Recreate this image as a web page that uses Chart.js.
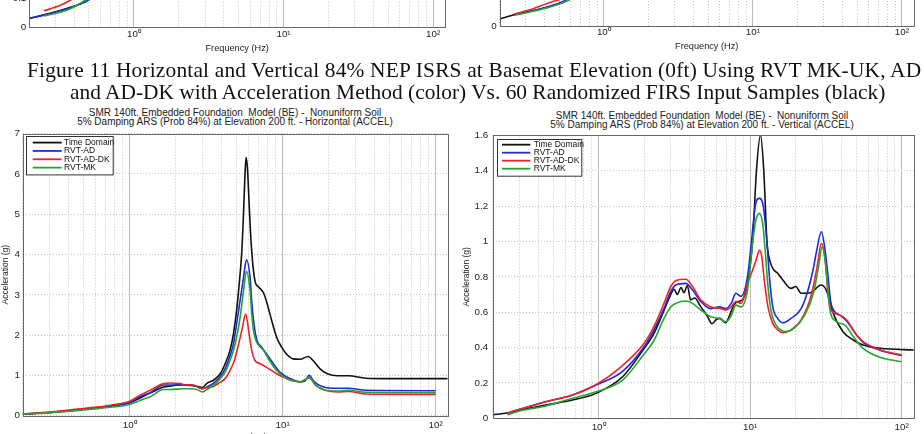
<!DOCTYPE html>
<html>
<head>
<meta charset="utf-8">
<script src="https://cdn.jsdelivr.net/npm/chart.js@4.4.1/dist/chart.umd.min.js"></script>
<style>
  html, body { margin: 0; padding: 0; background: #fff; }
  body { width: 924px; height: 434px; overflow: hidden; position: relative; font-family: "Liberation Sans", Arial, sans-serif; }
  .panel { position: absolute; }
  .cap { position: absolute; font-family: "Liberation Serif", "Times New Roman", serif; font-size: 21.4px; line-height: 22px;
         color: #111; white-space: nowrap; }
  .ttl { position: absolute; font-size: 10px; line-height: 9.3px; text-align: center; color: #222; white-space: pre; }
</style>
</head>
<body>

<div class="panel" style="left:0;top:-130px;width:462px;height:190px"><canvas id="fragH"></canvas></div>
<div class="panel" style="left:462px;top:-130px;width:462px;height:190px"><canvas id="fragV"></canvas></div>

<div class="cap" style="left:27px;top:59px;letter-spacing:0.18px">Figure 11 Horizontal and Vertical 84% NEP ISRS at Basemat Elevation (0ft) Using RVT MK-UK, AD</div>
<div class="cap" style="left:70px;top:81px">and AD-DK with Acceleration Method (color) Vs. 60 Randomized FIRS Input Samples (black)</div>

<div class="ttl" style="left:35px;top:108px;width:400px">SMR 140ft. Embedded Foundation  Model (BE) -  Nonuniform Soil
5% Damping ARS (Prob 84%) at Elevation 200 ft. - Horizontal (ACCEL)</div>
<div class="ttl" style="left:502px;top:111px;width:400px">SMR 140ft. Embedded Foundation  Model (BE) -  Nonuniform Soil
5% Damping ARS (Prob 84%) at Elevation 200 ft. - Vertical (ACCEL)</div>

<div class="panel" style="left:0;top:125px;width:462px;height:330px"><canvas id="mainH"></canvas></div>
<div class="panel" style="left:462px;top:125px;width:462px;height:330px"><canvas id="mainV"></canvas></div>

<script>
// log frequency grid (Hz), labels only on the decades
var freqTicks = [0.2, 0.3, 0.4, 0.5, 0.6, 0.7, 0.8, 0.9, 1, 2, 3, 4, 5, 6, 7, 8, 9, 10, 20, 30, 40, 50, 60, 70, 80, 90, 100];
var decadeTicks = [1, 10, 100];
var decadeLabels = ['10\u2070', '10\u00b9', '10\u00b2'];

var seriesNames = ['Time Domain', 'RVT-AD', 'RVT-AD-DK', 'RVT-MK'];
var seriesColors = ['#111111', '#1c2bd6', '#ec2327', '#26a532'];

var hTicks = [0, 1, 2, 3, 4, 5, 6, 7];
var hLabels = ['0', '1', '2', '3', '4', '5', '6', '7'];
var vTicks = [0, 0.2, 0.4, 0.6, 0.8, 1, 1.2, 1.4, 1.6];
var vLabels = ['0', '0.2', '0.4', '0.6', '0.8', '1', '1.2', '1.4', '1.6'];
var fragTicks = [0, 0.1, 0.2, 0.3, 0.4, 0.5];
var fragLabels = ['0', '0.1', '0.2', '0.3', '0.4', '0.5'];

// [frequency Hz, acceleration g]
// previous figure (only bottom strip visible)
var fragH_TD = [[0.2, 0.031], [0.251, 0.043], [0.36, 0.066], [0.42, 0.077], [0.476, 0.094], [0.6, 0.14]];
var fragH_AD = [[0.2, 0.031], [0.251, 0.042], [0.36, 0.064], [0.44, 0.08], [0.5, 0.095], [0.62, 0.14]];
var fragH_DK = [[0.251, 0.057], [0.32, 0.075], [0.378, 0.094], [0.5, 0.14]];
var fragH_MK = [[0.251, 0.039], [0.36, 0.06], [0.44, 0.083], [0.476, 0.094], [0.6, 0.14]];

var fragV_TD = [[0.2, 0.024], [0.243, 0.037], [0.298, 0.048], [0.406, 0.063], [0.582, 0.09], [0.7, 0.12]];
var fragV_AD = [[0.255, 0.04], [0.406, 0.064], [0.56, 0.09], [0.7, 0.12]];
var fragV_DK = [[0.249, 0.041], [0.314, 0.055], [0.45, 0.084], [0.499, 0.09], [0.6, 0.12]];
var fragV_MK = [[0.255, 0.038], [0.406, 0.061], [0.582, 0.09], [0.7, 0.12]];

// horizontal, elevation 200 ft
var h_TD = [[0.2, 0.04], [0.3, 0.08], [0.5, 0.16], [0.75, 0.24], [1.0, 0.32], [1.17, 0.44], [1.36, 0.56], [1.67, 0.71], [1.84, 0.73],
  [2.14, 0.77], [2.48, 0.75], [2.75, 0.73], [3.0, 0.70], [3.2, 0.80], [3.53, 0.88], [3.91, 1.04], [4.21, 1.29], [4.53, 1.62],
  [4.77, 2.03], [5.0, 2.6], [5.2, 3.26], [5.41, 4.07], [5.55, 5.0], [5.68, 6.0], [5.77, 6.41], [5.9, 6.1], [6.05, 5.2], [6.25, 4.2],
  [6.6, 3.34], [6.94, 3.2], [7.5, 3.05], [7.95, 2.76], [8.5, 2.35], [9.15, 1.94], [9.86, 1.70], [10.6, 1.53], [11.7, 1.41],
  [13.0, 1.40], [14.7, 1.47], [15.8, 1.37], [17.5, 1.17], [19.6, 1.04], [22.9, 0.99], [27, 0.99], [35, 0.93], [50, 0.92], [120, 0.92]];
var h_AD = [[0.2, 0.04], [0.3, 0.08], [0.5, 0.16], [0.75, 0.24], [1.0, 0.33], [1.17, 0.47], [1.36, 0.57], [1.67, 0.76], [1.84, 0.76],
  [2.25, 0.76], [2.55, 0.76], [2.89, 0.69], [3.0, 0.67], [3.27, 0.73], [3.53, 0.80], [3.8, 0.92], [4.1, 1.08], [4.42, 1.37],
  [4.77, 1.78], [5.0, 2.27], [5.27, 2.85], [5.55, 3.42], [5.8, 3.87], [6.13, 3.42], [6.28, 2.85], [6.5, 2.27], [6.79, 1.87],
  [7.3, 1.70], [7.86, 1.53], [8.7, 1.29], [9.6, 1.08], [11.2, 0.92], [13.0, 0.84], [14.0, 0.86], [14.9, 1.0], [16.1, 0.84],
  [18.3, 0.72], [22.9, 0.68], [27, 0.68], [35, 0.63], [100, 0.62]];
var h_DK = [[0.2, 0.04], [0.3, 0.09], [0.5, 0.18], [0.75, 0.26], [1.0, 0.36], [1.17, 0.51], [1.36, 0.63], [1.67, 0.80], [1.84, 0.81],
  [2.14, 0.80], [2.3, 0.76], [2.6, 0.76], [2.95, 0.67], [3.2, 0.70], [3.45, 0.71], [3.8, 0.80], [4.21, 0.92], [4.53, 1.12],
  [4.84, 1.37], [5.1, 1.70], [5.41, 2.11], [5.74, 2.52], [6.04, 2.03], [6.28, 1.62], [6.6, 1.37], [7.15, 1.29], [7.86, 1.2],
  [9.15, 1.04], [10.6, 0.92], [13, 0.84], [14.9, 0.94], [16.5, 0.75], [19, 0.63], [22.9, 0.59], [27, 0.6], [35, 0.54], [100, 0.53]];
var h_MK = [[0.2, 0.04], [0.3, 0.07], [0.5, 0.14], [0.75, 0.21], [1.0, 0.28], [1.17, 0.38], [1.36, 0.47], [1.67, 0.65], [1.84, 0.65],
  [2.25, 0.67], [2.55, 0.67], [2.75, 0.65], [3.0, 0.59], [3.2, 0.65], [3.53, 0.75], [3.91, 0.92], [4.21, 1.08], [4.53, 1.37],
  [4.77, 1.62], [5.0, 1.94], [5.27, 2.43], [5.55, 3.09], [5.8, 3.58], [6.13, 3.09], [6.28, 2.52], [6.5, 2.03], [6.87, 1.78],
  [7.5, 1.62], [8.2, 1.37], [9.15, 1.12], [10.6, 0.92], [13, 0.84], [14.9, 0.94], [16.5, 0.75], [19, 0.63], [22.9, 0.61],
  [27, 0.63], [35, 0.58], [100, 0.57]];

// vertical, elevation 200 ft
var v_TD = [[0.2, 0.02], [0.25, 0.03], [0.314, 0.049], [0.449, 0.075], [0.673, 0.103], [0.96, 0.141], [1.44, 0.235], [1.98, 0.39],
  [2.32, 0.48], [2.7, 0.61], [2.99, 0.70], [3.15, 0.73], [3.3, 0.70], [3.5, 0.74], [3.65, 0.71], [3.85, 0.75], [4.05, 0.67],
  [4.3, 0.68], [4.73, 0.63], [5.2, 0.58], [5.6, 0.535], [6.0, 0.56], [6.3, 0.565], [6.9, 0.54], [7.3, 0.58], [7.8, 0.64],
  [8.3, 0.66], [8.9, 0.67], [9.6, 0.76], [10.4, 1.01], [11.0, 1.4], [11.7, 1.60], [12.3, 1.4], [12.9, 1.0], [13.5, 0.89],
  [14.3, 0.84], [15.2, 0.82], [16.5, 0.78], [18.6, 0.735], [20, 0.745], [21.7, 0.707], [25, 0.71], [29.4, 0.754], [31.8, 0.725],
  [35.3, 0.594], [41, 0.49], [47.9, 0.443], [55.6, 0.414], [72, 0.396], [122, 0.386]];
var v_AD = [[0.25, 0.03], [0.314, 0.056], [0.449, 0.094], [0.673, 0.132], [0.96, 0.188], [1.44, 0.266], [1.98, 0.40], [2.32, 0.50],
  [2.7, 0.62], [2.99, 0.716], [3.23, 0.754], [3.76, 0.763], [4.17, 0.725], [4.73, 0.66], [5.5, 0.62], [6.25, 0.63], [6.93, 0.62],
  [7.5, 0.65], [8.05, 0.707], [8.7, 0.69], [9.6, 0.80], [10.2, 1.0], [10.8, 1.2], [11.5, 1.244], [12.2, 1.2], [12.9, 1.0],
  [13.4, 0.80], [14.1, 0.63], [15.2, 0.565], [16.4, 0.54], [18.6, 0.565], [21.7, 0.62], [24, 0.72], [26, 0.84], [27.5, 0.95],
  [29.5, 1.055], [31, 0.97], [32.5, 0.82], [34, 0.66], [36, 0.605], [39, 0.585], [43.3, 0.55], [50.5, 0.47], [55.6, 0.43],
  [72, 0.385], [100, 0.355]];
var v_DK = [[0.25, 0.03], [0.314, 0.056], [0.449, 0.094], [0.673, 0.132], [0.96, 0.19], [1.40, 0.29], [1.98, 0.42], [2.32, 0.52],
  [2.7, 0.65], [2.99, 0.744], [3.23, 0.778], [3.76, 0.786], [4.17, 0.744], [4.73, 0.669], [5.5, 0.63], [6.25, 0.622],
  [6.93, 0.612], [7.5, 0.63], [8.05, 0.66], [8.7, 0.65], [9.6, 0.763], [10.4, 0.84], [11.0, 0.9], [11.5, 0.95], [11.9, 0.92],
  [12.4, 0.78], [13.1, 0.63], [14.1, 0.537], [15.2, 0.50], [16.4, 0.484], [18.6, 0.50], [21.7, 0.556], [25.2, 0.69],
  [27.7, 0.86], [29.5, 0.99], [31.2, 0.90], [32.7, 0.70], [34.3, 0.61], [39, 0.584], [43.3, 0.556], [50.5, 0.47],
  [55.6, 0.433], [72, 0.386], [100, 0.358]];
var v_MK = [[0.25, 0.02], [0.314, 0.045], [0.449, 0.07], [0.673, 0.113], [0.96, 0.15], [1.44, 0.216], [1.98, 0.36], [2.32, 0.44],
  [2.7, 0.565], [2.99, 0.63], [3.23, 0.65], [3.76, 0.663], [4.17, 0.65], [4.73, 0.612], [5.5, 0.574], [6.25, 0.565],
  [6.93, 0.546], [7.5, 0.58], [8.05, 0.64], [8.7, 0.63], [9.6, 0.725], [10.4, 1.0], [10.9, 1.12], [11.5, 1.159], [12.1, 1.1],
  [12.7, 0.9], [13.0, 0.78], [13.7, 0.612], [14.8, 0.528], [15.9, 0.50], [17.2, 0.49], [19.5, 0.51], [22.8, 0.58],
  [26.2, 0.71], [28.3, 0.86], [29.8, 0.97], [31.5, 0.87], [33.5, 0.62], [37.2, 0.546], [42.3, 0.527], [48, 0.461],
  [55.6, 0.396], [72, 0.345], [100, 0.32]];

var FONT = '"Liberation Sans", Arial, sans-serif';

// axes box, like matlab "box on"
var framePlugin = {
  id: 'frame',
  afterDraw: function(chart) {
    var a = chart.chartArea, ctx = chart.ctx;
    ctx.save();
    ctx.strokeStyle = '#666';
    ctx.lineWidth = 1;
    ctx.strokeRect(Math.round(a.left) + 0.5, Math.round(a.top) + 0.5, Math.round(a.right - a.left), Math.round(a.bottom - a.top));
    ctx.restore();
  }
};

// legend box in the upper left corner of the plot
var legendPlugin = {
  id: 'legendBox',
  afterDraw: function(chart, args, o) {
    if (!o || !o.show) return;
    var ctx = chart.ctx, a = chart.chartArea;
    var x0 = a.left + o.x, y0 = a.top + o.y;
    ctx.save();
    ctx.fillStyle = '#fff';
    ctx.fillRect(x0, y0, o.w, o.h);
    ctx.strokeStyle = '#333';
    ctx.lineWidth = 1;
    ctx.strokeRect(Math.round(x0) + 0.5, Math.round(y0) + 0.5, o.w, o.h);
    ctx.font = '8.5px ' + FONT;
    ctx.textBaseline = 'middle';
    chart.data.datasets.forEach(function(ds, i) {
      var yy = y0 + o.first + i * o.step;
      ctx.strokeStyle = ds.borderColor;
      ctx.lineWidth = 1.8;
      ctx.beginPath();
      ctx.moveTo(x0 + o.l1, yy);
      ctx.lineTo(x0 + o.l2, yy);
      ctx.stroke();
      ctx.fillStyle = '#111';
      ctx.fillText(ds.label, x0 + o.tx, yy);
    });
    ctx.restore();
  }
};

function toPoints(arr) {
  return arr.map(function(p) { return {x: p[0], y: p[1]}; });
}

function makeDatasets(series) {
  return series.map(function(s, i) {
    return {
      label: seriesNames[i],
      data: toPoints(s),
      borderColor: seriesColors[i],
      borderWidth: 1.6,
      pointRadius: 0,
      fill: false,
      cubicInterpolationMode: 'monotone',
      order: 4 - i
    };
  });
}

function makeChart(id, series, c) {
  return new Chart(document.getElementById(id), {
    type: 'line',
    data: { datasets: makeDatasets(series) },
    plugins: [framePlugin, legendPlugin],
    options: {
      responsive: true,
      maintainAspectRatio: false,
      animation: false,
      events: [],
      layout: { padding: { top: c.padTop, right: c.padRight, left: 0, bottom: 0 } },
      plugins: {
        legend: { display: false },
        tooltip: { enabled: false },
        legendBox: c.legend
      },
      scales: {
        x: {
          type: 'logarithmic',
          min: 0.2,
          max: 120,
          afterBuildTicks: function(scale) {
            scale.ticks = freqTicks.map(function(v) { return {value: v}; });
          },
          afterFit: function(scale) { scale.height = c.xHeight; },
          ticks: {
            autoSkip: false,
            maxRotation: 0,
            padding: c.xTickPad,
            color: '#222',
            font: { family: FONT, size: 9.8 },
            callback: function(value) {
              var k = decadeTicks.indexOf(value);
              return k >= 0 ? decadeLabels[k] : '';
            }
          },
          grid: {
            drawTicks: false,
            color: function(ctx) {
              return ctx.tick && decadeTicks.indexOf(ctx.tick.value) >= 0 ? '#bdbdbd' : '#c4c4c4';
            }
          },
          border: {
            display: false,
            dash: function(ctx) {
              return ctx.tick && decadeTicks.indexOf(ctx.tick.value) >= 0 ? [] : [1, 2];
            }
          },
          title: {
            display: true,
            text: 'Frequency (Hz)',
            color: '#222',
            font: { family: FONT, size: 9.2 },
            padding: { top: 0, bottom: c.xTitlePad }
          }
        },
        y: {
          min: c.yTicks[0],
          max: c.yTicks[c.yTicks.length - 1],
          afterBuildTicks: function(scale) {
            scale.ticks = c.yTicks.map(function(v) { return {value: v}; });
          },
          afterFit: function(scale) { scale.width = c.yWidth; },
          ticks: {
            padding: c.yTickPad,
            color: '#222',
            font: { family: FONT, size: 9.8 },
            callback: function(value) {
              var k = c.yTicks.indexOf(value);
              return k >= 0 ? c.yLabels[k] : '';
            }
          },
          grid: { drawTicks: false, color: '#c4c4c4' },
          border: { display: false, dash: [1, 2] },
          title: {
            display: c.yTitle,
            text: 'Acceleration (g)',
            color: '#222',
            font: { family: FONT, size: 8.5 },
            padding: { top: c.yTitlePad, bottom: 0 }
          }
        }
      }
    }
  });
}

makeChart('fragH', [fragH_TD, fragH_AD, fragH_DK, fragH_MK], {
  padTop: 12.3, padRight: 17, yWidth: 29.3, xHeight: 32.7, xTickPad: 1, xTitlePad: 6.3,
  yTicks: fragTicks, yLabels: fragLabels, yTickPad: 3, yTitle: false, yTitlePad: 0, legend: { show: false }
});
makeChart('fragV', [fragV_TD, fragV_AD, fragV_DK, fragV_MK], {
  padTop: 11, padRight: 10.3, yWidth: 37.7, xHeight: 34, xTickPad: 0.3, xTitlePad: 7.6,
  yTicks: fragTicks, yLabels: fragLabels, yTickPad: 3, yTitle: false, yTitlePad: 0, legend: { show: false }
});

makeChart('mainH', [h_TD, h_AD, h_DK, h_MK], {
  padTop: 6, padRight: 14.3, yWidth: 22.7, xHeight: 39.3, xTickPad: 3.6, xTitlePad: 12.5,
  yTicks: hTicks, yLabels: hLabels, yTickPad: 2.7, yTitle: true, yTitlePad: 0.9,
  legend: { show: true, x: 3.3, y: 2.3, w: 86.7, h: 38.4, first: 6.7, step: 8.35, l1: 6.7, l2: 35.7, tx: 38 }
});
makeChart('mainV', [v_TD, v_AD, v_DK, v_MK], {
  padTop: 10, padRight: 10.3, yWidth: 30.7, xHeight: 36.7, xTickPad: 2.7, xTitlePad: 8.5,
  yTicks: vTicks, yLabels: vLabels, yTickPad: 4.5, yTitle: true, yTitlePad: 0,
  legend: { show: true, x: 4.3, y: 3.3, w: 84.3, h: 36.7, first: 6, step: 8, l1: 5, l2: 33.3, tx: 36.7 }
});
</script>
</body>
</html>
